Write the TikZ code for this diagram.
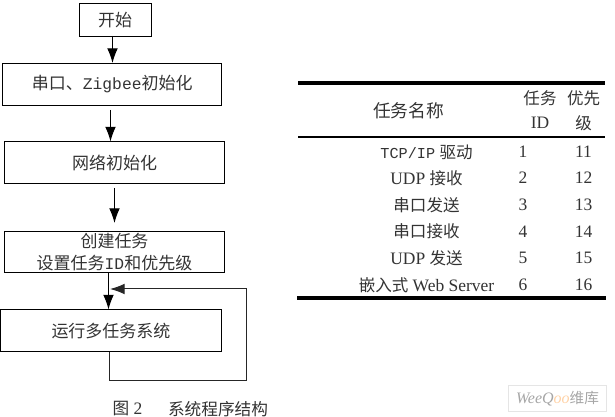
\documentclass[tikz,border=0pt]{standalone}
\usepackage{fontspec}
\setmainfont{Liberation Serif}
\newfontfamily\cjk{Noto Sans CJK SC}
\newfontfamily\mono{Liberation Mono}
\usetikzlibrary{arrows.meta}

\begin{document}
\begin{tikzpicture}[
    x=0.75pt, y=-0.75pt,
    line width=0.75pt,
    flow/.style  = {-{Latex[length=11pt,width=8pt]}},
    boxed/.style = {draw, inner sep=0pt, align=center, text=black!80,
      font=\fontsize{12.75}{16.5}\cjk},
    lbl/.style   = {inner sep=0pt, text=black!80, font=\fontsize{13.1}{15}\selectfont},
    rule/.style  = {line width=#1, draw=black}
  ]
  \useasboundingbox (0,0) rectangle (615,417);

  % flow chart
  \node [boxed, minimum width=54pt, minimum height=24.4pt] (start) at (115,19.75) {开始};
  \node [boxed, minimum width=164.6pt, minimum height=31.5pt] (uart) at (112.25,84.5)
    {串口、{\mono\fontsize{12.2}{16}\selectfont Zigbee}初始化};
  \node [boxed, minimum width=165pt, minimum height=31.5pt] (net) at (114.5,163) {网络初始化};
  \node [boxed, minimum width=165pt, minimum height=31.1pt] (task) at (114.5,252.25)
    {创建任务\\设置任务{\mono\fontsize{12.2}{16}\selectfont ID}和优先级};
  \node [boxed, minimum width=165.7pt, minimum height=31.5pt] (run) at (111,331) {运行多任务系统};

  \coordinate (a1) at (112.5,36);
  \coordinate (a2) at (110.5,110);
  \coordinate (a3) at (114.5,188);
  \coordinate (a4) at (114.5,223);
  \coordinate (a5) at (108.5,273);
  \coordinate (b1) at (109.5,352);
  \coordinate (b2) at (246,380.5);
  \coordinate (b3) at (110,289);

  \draw [flow] (a1) -- (a1 |- uart.north);
  \draw [flow] (a2) -- (a2 |- net.north);
  \draw [flow] (a3) -- (a4);
  \draw [flow] (a5) -- (a5 |- run.north);
  \draw [flow, draw=black!85] (b1) |- (b2) |- (b3);

  % table
  \coordinate (t1) at (298,82.7);
  \coordinate (t2) at (605,82.7);
  \draw [rule=2.8pt] (t1) -- (t2);
  \draw [rule=1.7pt] (298,137) coordinate (t3) -- (605,137) coordinate (t4);
  \draw [rule=2.4pt] (297,298) coordinate (t5) -- (606,298) coordinate (t6);

  \node [lbl, font=\fontsize{13.3}{15}\cjk] (head) at (408.7,111) {任务名称};
  \node [lbl, font=\fontsize{12.4}{15}\cjk] (idtop) at (540,98) {任务};
  \node [lbl] (idbot) at (540,123) {ID};
  \node [lbl, font=\fontsize{12.4}{15}\cjk] (priotop) at (583.6,98) {优先};
  \node [lbl, font=\fontsize{12.4}{15}\cjk] (priobot) at (583.6,123) {级};

  \foreach \i/\y/\name in {
      1/152/{{\mono\fontsize{11.4}{15}\selectfont TCP/IP} {\cjk\fontsize{12.4}{15}\selectfont 驱动}},
      2/178/{UDP {\cjk\fontsize{12.4}{15}\selectfont 接收}},
      3/205/{{\cjk\fontsize{12.4}{15}\selectfont 串口发送}},
      4/231.5/{{\cjk\fontsize{12.4}{15}\selectfont 串口接收}},
      5/258/{UDP {\cjk\fontsize{12.4}{15}\selectfont 发送}},
      6/285/{{\cjk\fontsize{12.4}{15}\selectfont 嵌入式} Web Server}} {
    \node [lbl] (name\i) at (426.5,\y) {\name};
    \node [lbl] (id\i) at (523,\y) {\i};
    \pgfmathtruncatemacro{\prio}{10+\i}
    \node [lbl] (prio\i) at (583.5,\y) {\prio};
  }

  % caption
  \node [lbl] (capnum) at (127.5,409) {{\cjk\fontsize{12.5}{15}\selectfont 图} 2};
  \node [lbl, font=\fontsize{12.5}{15}\cjk] (captext) at (218,409) {系统程序结构};

  % watermark
  \node [draw=black!10, minimum width=74pt, minimum height=20pt, inner sep=0pt,
    text=black!35, font=\fontsize{12}{13}\selectfont] (mark) at (557.5,398.5)
    {\itshape WeeQ{\color{orange!35}oo}\upshape{\cjk\fontsize{11}{13}\selectfont 维库}};
\end{tikzpicture}
\end{document}
